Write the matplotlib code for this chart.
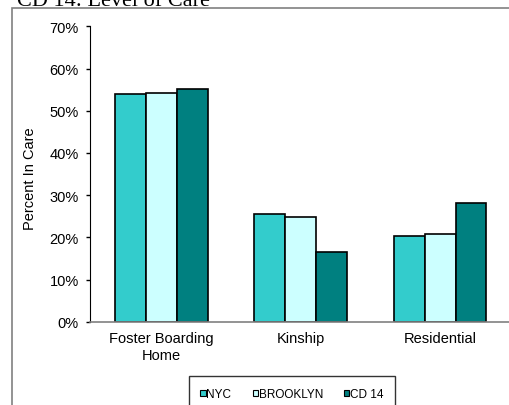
import numpy as np
import matplotlib
matplotlib.use('Agg')
import matplotlib.pyplot as plt
from matplotlib.patches import Patch, Rectangle
from matplotlib.ticker import MultipleLocator, PercentFormatter

plt.rcParams['font.family'] = ['Liberation Sans', 'DejaVu Sans']

categories = ['Foster Boarding\nHome', 'Kinship', 'Residential']
series_names = ['NYC', 'BROOKLYN', 'CD 14']
nyc = [54.0, 25.5, 20.2]
brooklyn = [54.2, 24.9, 20.9]
cd14 = [55.2, 16.6, 28.1]
colors = ['#33CCCC', '#CCFFFF', '#008080']

W, H = 510, 406
fig = plt.figure(figsize=(W / 100, H / 100), dpi=100)

# outer chart frame (right and bottom run off the picture)
fig.patches.append(Rectangle((12.5 / W, -0.1), 1.0, 1 - 8.5 / H + 0.1,
                             transform=fig.transFigure, fill=False,
                             ec='#808080', lw=1.2, zorder=0))

fig.text(17 / W, 1 - 6 / H, 'CD 14: Level of Care', family='Liberation Serif',
         fontsize=16, va='baseline', ha='left')

ax = fig.add_axes([90 / W, 1 - 322.7 / H, 420 / W, (322.7 - 27.3) / H])
ax.patch.set_alpha(0)

x = np.arange(len(categories))
bw = 0.222
for i, vals in enumerate([nyc, brooklyn, cd14]):
    ax.bar(x + (i - 1) * bw, vals, bw, color=colors[i], edgecolor='black',
           linewidth=1.2, zorder=2)

ax.set_xlim(-0.513, 2.502)
ax.set_ylim(0, 70)
ax.yaxis.set_major_locator(MultipleLocator(10))
ax.yaxis.set_major_formatter(PercentFormatter(decimals=0))
ax.set_xticks(x)
ax.set_xticklabels(categories, fontsize=10.5)
ax.tick_params(axis='x', length=0, pad=7)
ax.tick_params(axis='y', direction='out', length=3, width=1, pad=5, labelsize=10.5)

for s in ['top', 'right']:
    ax.spines[s].set_visible(False)
ax.spines['left'].set_color('black')
ax.spines['bottom'].set_color('#808080')
ax.spines['bottom'].set_linewidth(1.2)

fig.text(30 / W, 1 - 179 / H, 'Percent In Care', rotation=90, fontsize=10.5,
         ha='center', va='center')

handles = [Patch(facecolor=c, edgecolor='black', lw=0.8) for c in colors]
leg = fig.legend(handles, series_names, loc='center', ncol=3,
                 bbox_to_anchor=(292 / W, 1 - 395 / H), fontsize=8.5,
                 frameon=True, fancybox=False, edgecolor='black',
                 handlelength=0.45, handleheight=0.45, handletextpad=0.05,
                 columnspacing=1.8, borderpad=1.0, borderaxespad=0)
leg.get_frame().set_linewidth(1)

fig.savefig('out.png', dpi=100)
